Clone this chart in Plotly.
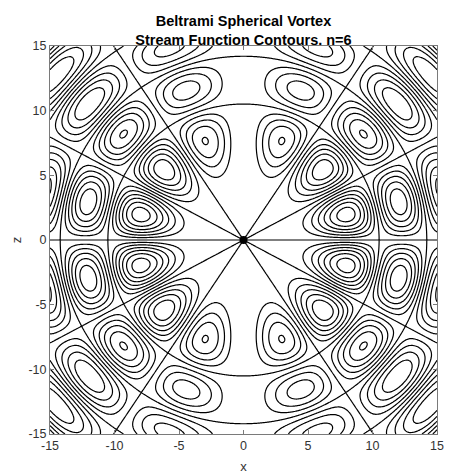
import numpy as np
import plotly.graph_objects as go

# ---- chart parameters / data ----
n_order = 6                       # Legendre / Bessel order n
x_limits = [-15, 15]
z_limits = [-15, 15]
tick_values = [-15, -10, -5, 0, 5, 10, 15]
tick_labels = ["-15", "-10", "-5", "0", "5", "10", "15"]
level_step = 0.375                # spacing between stream-function contour levels
grid_count = 400
title_lines = ["Beltrami Spherical Vortex", "Stream Function Contours. n=6"]
x_label = "x"
z_label = "z"

# ---- stream function psi = r j_n(r) sin^2(theta) P_n'(cos theta) ----
xs = np.linspace(x_limits[0], x_limits[1], grid_count)
zs = np.linspace(z_limits[0], z_limits[1], grid_count)
X, Z = np.meshgrid(xs, zs)
R = np.hypot(X, Z)
MU = Z / R

t, w = np.polynomial.legendre.leggauss(120)
Pn = np.polynomial.legendre.Legendre.basis(n_order)
integrand_w = w * Pn(t)
jn = 0.5 * (-1) ** (n_order // 2) * (np.cos(np.outer(R.ravel(), t)) @ integrand_w)
jn = jn.reshape(R.shape)
dPn = Pn.deriv()(MU)
psi = R * jn * (1 - MU ** 2) * dPn

kmax = int(np.ceil(np.abs(psi).max() / level_step))

fig = go.Figure()
fig.add_trace(go.Contour(
    x=xs, y=zs, z=psi,
    contours=dict(coloring="lines", start=-kmax * level_step, end=kmax * level_step, size=level_step),
    colorscale=[[0, "black"], [1, "black"]],
    line=dict(width=1.2),
    showscale=False, hoverinfo="skip",
))
fig.add_trace(go.Scatter(
    x=[0], y=[0], mode="markers",
    marker=dict(color="black", size=8), showlegend=False, hoverinfo="skip",
))

axis_common = dict(
    showgrid=False, zeroline=False, showline=True, linecolor="#7a7a7a", linewidth=1,
    mirror="ticks", ticks="inside", ticklen=4, tickcolor="#7a7a7a", automargin=False,
    tickfont=dict(family="Liberation Sans, Arial", size=12.5, color="#333333"),
    tickvals=tick_values, ticktext=tick_labels,
)

fig.update_layout(
    width=451, height=474,
    margin=dict(l=50, r=14, t=46, b=40),
    paper_bgcolor="white", plot_bgcolor="white",
    showlegend=False,
    title=dict(
        text="<b>" + title_lines[0] + "<br>" + title_lines[1] + "</b>",
        x=0.5, xref="paper", xanchor="center",
        y=1 - 26 / 474, yref="container", yanchor="middle",
        font=dict(family="Liberation Sans, Arial", size=14.5, color="black"),
    ),
    xaxis=dict(range=x_limits, ticklabelstandoff=0, title=dict(text=x_label, standoff=9,
               font=dict(family="Liberation Sans, Arial", size=13, color="#333333")), **axis_common),
    yaxis=dict(range=z_limits, ticklabelstandoff=0, title=dict(text=z_label, standoff=3,
               font=dict(family="Liberation Sans, Arial", size=13, color="#333333")), **axis_common),
)

fig.write_html("out.html", config={"displayModeBar": False},
               post_script="document.body.style.margin='0';document.body.style.overflow='hidden';")
